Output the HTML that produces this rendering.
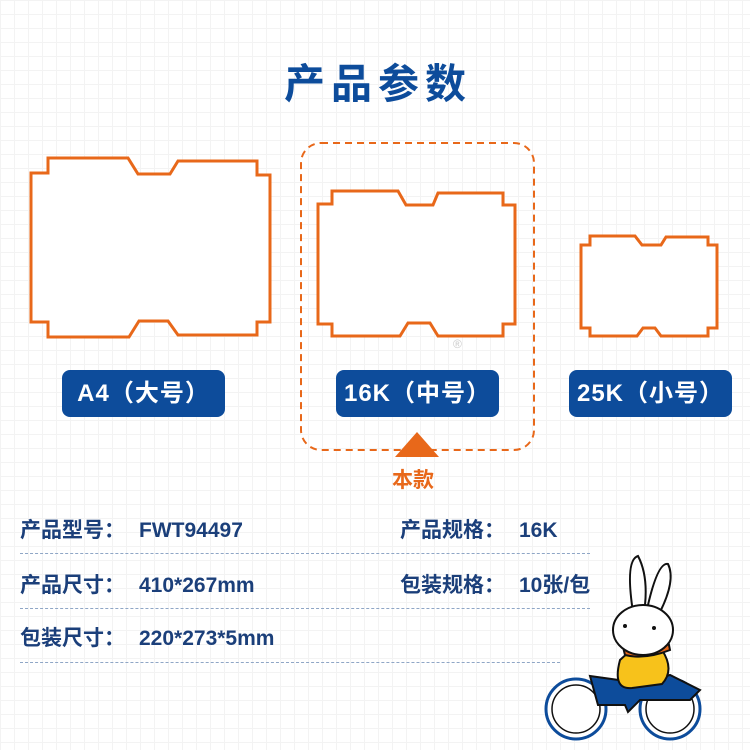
<!DOCTYPE html>
<html><head><meta charset="utf-8"><style>
body{margin:0;width:750px;height:750px;overflow:hidden;background:#fff;
background-image:linear-gradient(#f3f3f3 1px,transparent 1px),linear-gradient(90deg,#f3f3f3 1px,transparent 1px);background-size:14px 14px;
font-family:"Liberation Sans","Noto Sans CJK SC",sans-serif;position:relative}
.t{position:absolute;left:0;width:750px;top:50px;text-align:center;font-size:41px;font-weight:bold;color:#0d4c9b;letter-spacing:6px;text-indent:6px}
.lab{position:absolute;top:370px;height:47px;width:163px;background:#0d4c9b;border-radius:8px;color:#fff;font-weight:bold;font-size:24px;line-height:47px;text-align:center;letter-spacing:1px}
.row{position:absolute;font-size:21px;font-weight:bold;color:#1b3f7a;line-height:24px}
.row span{margin-right:14px}
.ln{position:absolute;left:20px;border-top:1px dashed #8fa6c6}
</style></head><body>
<div class="t">产品参数</div>
<svg width="750" height="750" style="position:absolute;left:0;top:0">
<g fill="#fff" stroke="#e8681a" stroke-width="3" stroke-linejoin="miter">
<polygon points="31,173 48,173 48,158 128,158 138,174 170,174 178,161 257,161 257,175 270,175 270,322 257,322 257,335 178,335 168,321 139,321 129,337 48,337 48,322 31,322"/>
<polygon points="318,204 332,204 332,191 398,191 406,205 433,205 438,193 503,193 503,205 515,205 515,324 503,324 503,336 438,336 430,323 408,323 400,336 332,336 332,324 318,324"/>
<polygon points="581,245 590,245 590,236 635,236 642,245 661,245 666,237 708,237 708,245 717,245 717,328 708,328 708,336 661,336 655,328 643,328 637,336 590,336 590,328 581,328"/>
</g>
<rect x="301" y="143" width="233" height="307" rx="20" fill="none" stroke="#e8681a" stroke-width="2" stroke-dasharray="7,5"/>
<polygon points="417,432 395,457 439,457" fill="#e8681a"/>
<text x="453" y="348" font-size="12" fill="#ccc" font-family="Liberation Sans">®</text>
<g stroke="#111" stroke-width="2">
<circle cx="576" cy="709" r="30" fill="#fff" stroke="#0d4c9b" stroke-width="3"/>
<circle cx="576" cy="709" r="24" fill="#fff" stroke="#111" stroke-width="1.5"/>
<circle cx="670" cy="709" r="30" fill="#fff" stroke="#0d4c9b" stroke-width="3"/>
<circle cx="670" cy="709" r="24" fill="#fff" stroke="#111" stroke-width="1.5"/>
<path d="M590,676 L640,683 L670,675 L700,690 L690,700 L640,700 L628,712 L625,705 L598,705 Z" fill="#0d4c9b"/>
<path d="M620,660 Q612,690 632,688 L662,684 Q675,670 662,650 Q640,640 620,660Z" fill="#f7c21b"/>
<path d="M623,647 Q645,652 668,640 L670,650 Q645,660 625,655Z" fill="#e8681a"/>
<path d="M633,612 Q625,560 638,556 Q648,575 645,605Z" fill="#fff"/>
<path d="M648,605 Q658,562 668,564 Q676,580 660,612Z" fill="#fff"/>
<ellipse cx="643" cy="630" rx="30" ry="25" fill="#fff"/>
<circle cx="625" cy="626" r="2" fill="#111" stroke="none"/>
<circle cx="654" cy="628" r="2" fill="#111" stroke="none"/>
</g>
</svg>
<div class="lab" style="left:62px">A4（大号）</div>
<div class="lab" style="left:336px">16K（中号）</div>
<div class="lab" style="left:569px">25K（小号）</div>
<div style="position:absolute;left:392px;top:464px;font-size:21px;font-weight:bold;color:#e8681a">本款</div>
<div class="row" style="left:20px;top:519px"><span>产品型号：</span>FWT94497</div>
<div class="row" style="left:400px;top:519px"><span>产品规格：</span>16K</div>
<div class="row" style="left:20px;top:574px"><span>产品尺寸：</span>410*267mm</div>
<div class="row" style="left:400px;top:574px"><span>包装规格：</span>10张/包</div>
<div class="row" style="left:20px;top:627px"><span>包装尺寸：</span>220*273*5mm</div>
<div class="ln" style="top:553px;width:570px"></div>
<div class="ln" style="top:608px;width:570px"></div>
<div class="ln" style="top:662px;width:540px"></div>
</body></html>
